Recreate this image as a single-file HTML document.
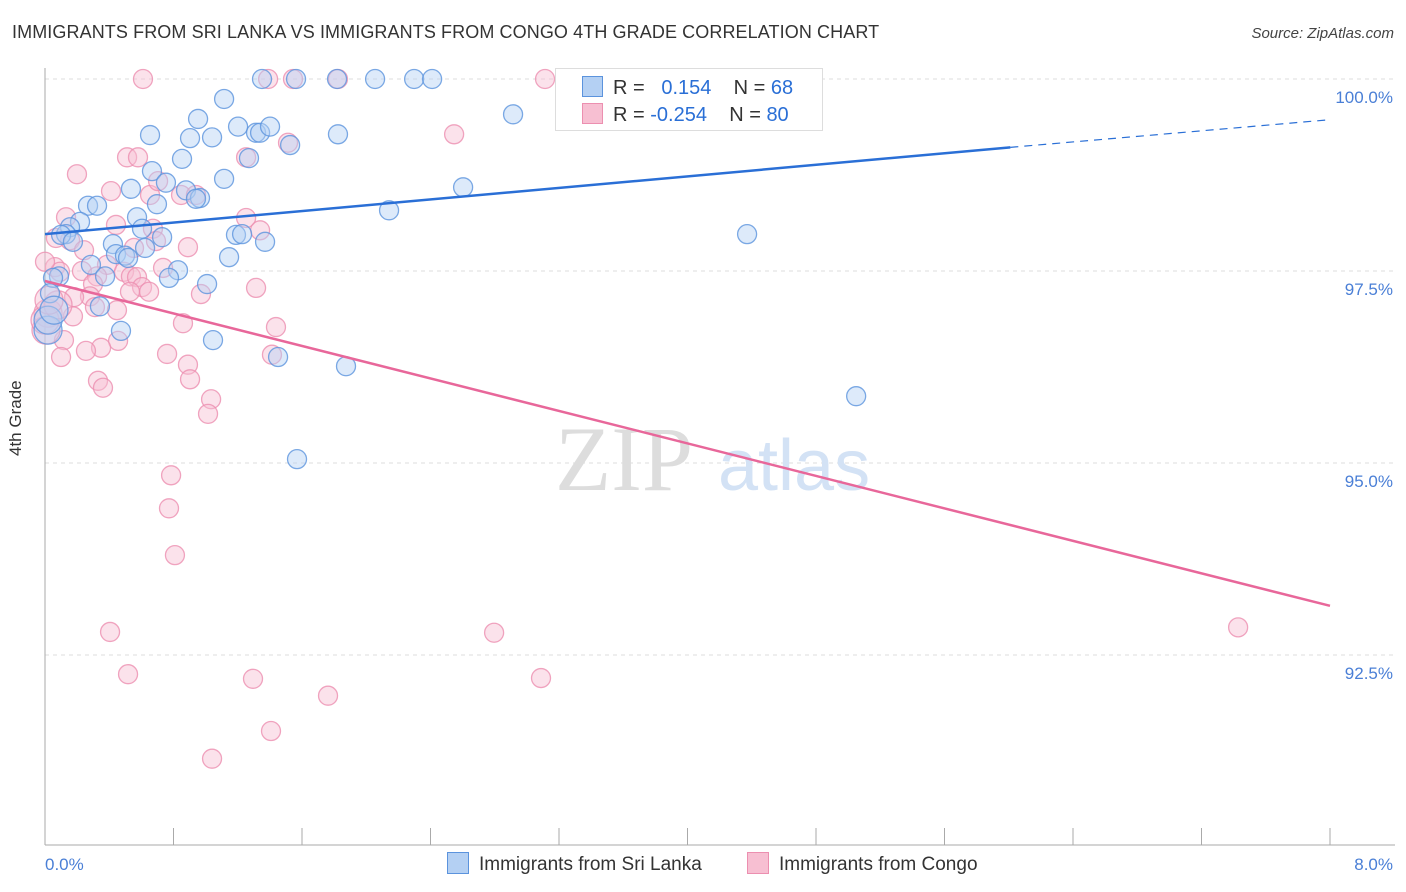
<!DOCTYPE html>
<html><head><meta charset="utf-8">
<style>
body{margin:0;background:#fff;font-family:"Liberation Sans",sans-serif;}
#wrap{position:relative;width:1406px;height:892px;overflow:hidden;}
.t{position:absolute;white-space:nowrap;}
</style></head>
<body>
<div id="wrap">
<div class="t" style="left:12px;top:22px;font-size:18px;color:#333;letter-spacing:0.1px">IMMIGRANTS FROM SRI LANKA VS IMMIGRANTS FROM CONGO 4TH GRADE CORRELATION CHART</div>
<div class="t" style="right:12px;top:25px;font-size:15px;color:#444;font-style:italic">Source: ZipAtlas.com</div>
<div class="t" style="left:6px;top:456px;font-size:17px;color:#333;transform:rotate(-90deg);transform-origin:left top;transform:translate(0,0) rotate(-90deg);">4th Grade</div>
<svg id="svg" width="1406" height="892" style="position:absolute;left:0;top:0"></svg>
</div>
<script>
const blueX=[1.351,1.563,1.818,2.055,2.298,2.410,1.115,2.914,0.953,0.654,1.202,1.040,0.903,1.314,1.339,1.401,1.526,1.824,0.853,1.270,0.666,1.115,0.753,0.535,0.878,2.603,0.965,0.940,0.268,0.324,0.697,2.142,0.573,0.218,0.156,0.131,0.604,0.100,0.174,0.729,1.189,1.227,1.370,4.371,0.423,0.623,0.442,0.498,0.517,1.146,0.286,0.828,0.374,0.087,0.050,0.772,1.009,0.031,0.342,0.473,1.046,0.019,1.451,1.874,5.050,1.569,0.019,0.056];
const blueY=[100,100,100,100,100,100,99.74,99.54,99.48,99.27,99.38,99.24,99.23,99.30,99.30,99.38,99.14,99.28,98.96,98.97,98.80,98.70,98.65,98.57,98.55,98.59,98.45,98.44,98.35,98.35,98.37,98.29,98.20,98.14,98.07,97.98,98.05,97.97,97.88,97.94,97.97,97.98,97.88,97.98,97.85,97.80,97.72,97.70,97.67,97.68,97.58,97.51,97.43,97.43,97.41,97.41,97.33,97.21,97.04,96.72,96.60,96.73,96.38,96.26,95.87,95.05,96.86,96.99];
const pinkX=[0.610,1.389,1.544,1.824,3.113,2.547,1.513,0.511,0.579,1.252,0.199,0.411,0.654,0.847,0.940,0.704,0.131,1.252,0.442,0.672,1.339,0.156,0.890,0.554,0.691,0.068,0.243,0.062,0.386,0.735,0.492,0.230,0.535,0.573,0.324,0.299,0.604,1.314,0.648,0.280,0.529,0.971,0.181,0.311,0.448,0.019,0.174,0.859,1.438,0.118,0.455,0.349,0.255,0.100,0.760,1.413,0.890,0.903,0.330,0.361,1.034,1.015,0.785,0.772,0.809,0.405,2.796,7.428,0.517,1.295,3.088,1.762,1.407,1.040,0.006,0,0.081,0.025,0.093,0];
const pinkY=[100,100,100,100,100,99.28,99.17,98.98,98.98,98.98,98.76,98.54,98.49,98.49,98.49,98.67,98.20,98.19,98.10,98.05,98.03,97.90,97.81,97.80,97.89,97.93,97.77,97.55,97.58,97.54,97.49,97.50,97.43,97.42,97.43,97.33,97.29,97.28,97.23,97.17,97.23,97.20,97.16,97.03,96.99,96.95,96.91,96.82,96.77,96.60,96.59,96.50,96.46,96.38,96.42,96.41,96.28,96.09,96.07,95.98,95.83,95.64,94.84,94.41,93.80,92.80,92.79,92.86,92.25,92.19,92.20,91.97,91.51,91.15,96.73,96.86,97.06,97.12,97.49,97.62];
const yTicks=[100,97.5,95,92.5];
const yTickLabels=["100.0%","97.5%","95.0%","92.5%"];
const blueTrendX=[0,6.01,8];const blueTrendY=[97.98,99.11,99.47];
const pinkTrendX=[0,8];const pinkTrendY=[97.37,93.14];

const X0=45,X1=1330,YTOP=79,PXPER=76.8;
const xs=v=>X0+v/8*(X1-X0);
const ys=v=>YTOP+(100-v)*PXPER;
const svg=document.getElementById('svg');
const NS='http://www.w3.org/2000/svg';
function mk(tag,attrs,parent){const e=document.createElementNS(NS,tag);for(const k in attrs)e.setAttribute(k,attrs[k]);(parent||svg).appendChild(e);return e;}

yTicks.forEach((t,i)=>{
  const g=mk('line',{x1:X0,x2:1395,y1:ys(t),y2:ys(t),stroke:'#ddd','stroke-dasharray':'4,4'});
  
  
  const tx=mk('text',{x:1393,y:ys(t)+24,'text-anchor':'end','font-size':17,fill:'#4a7fd6','font-family':'Liberation Sans'});
  tx.textContent=yTickLabels[i];
  
  
});
const ax=mk('line',{x1:X0,x2:X0,y1:68,y2:845,stroke:'#aaa'});


const bx=mk('line',{x1:X0,x2:1395,y1:845,y2:845,stroke:'#aaa'});


for(let i=0;i<=10;i++){const tk=mk('line',{x1:xs(i*0.8),x2:xs(i*0.8),y1:828,y2:845,stroke:'#aaa'});

}
[["0.0%",45,'start'],["8.0%",1393,'end']].forEach(a=>{const t=mk('text',{x:a[1],y:870,'text-anchor':a[2],'font-size':17,fill:'#4a7fd6','font-family':'Liberation Sans'});t.textContent=a[0];

});

// watermark
const wm=mk('text',{x:555,y:490,'font-size':92,fill:'#ddd','font-family':'Liberation Serif'});wm.textContent='ZIP';


const wm2=mk('text',{x:718,y:490,'font-size':72,fill:'#d3e2f5','font-family':'Liberation Sans'});wm2.textContent='atlas';



function pts(X,Y,fill,stroke,name){X.forEach((x,i)=>{
  const r=(x<0.1&&Y[i]<97.2&&Y[i]>96.6)?14:9.5;
  const c=mk('circle',{cx:xs(x),cy:ys(Y[i]),r:r,fill:fill,'fill-opacity':0.45,stroke:stroke,'stroke-width':1.3,'stroke-opacity':0.8});
  
  
});}
pts(pinkX,pinkY,'#f7bfd2','#ec8fb0','congo-point');
pts(blueX,blueY,'#b4d0f3','#5b93dd','sri-lanka-point');

const bl=mk('line',{x1:xs(blueTrendX[0]),y1:ys(blueTrendY[0]),x2:xs(blueTrendX[1]),y2:ys(blueTrendY[1]),stroke:'#2a6fd6','stroke-width':2.5});


const bd=mk('line',{x1:xs(blueTrendX[1]),y1:ys(blueTrendY[1]),x2:xs(blueTrendX[2]),y2:ys(blueTrendY[2]),stroke:'#2a6fd6','stroke-width':1.2,'stroke-dasharray':'8,6'});


const pl=mk('line',{x1:xs(pinkTrendX[0]),y1:ys(pinkTrendY[0]),x2:xs(pinkTrendX[1]),y2:ys(pinkTrendY[1]),stroke:'#e8679a','stroke-width':2.5});


</script>
<div class="t" style="left:555px;top:68px;width:266px;height:61px;border:1px solid #ddd;background:#fff;font-size:20px;color:#333">
  <div style="position:absolute;left:26px;top:7px"><span style="display:inline-block;width:19px;height:19px;background:#b4d0f3;border:1px solid #5b93dd;vertical-align:-3px;margin-right:10px"></span>R = &nbsp;<span style="color:#2a6fd6">&nbsp;0.154</span>&nbsp;&nbsp;&nbsp; N = <span style="color:#2a6fd6">68</span></div>
  <div style="position:absolute;left:26px;top:34px"><span style="display:inline-block;width:19px;height:19px;background:#f7bfd2;border:1px solid #ec8fb0;vertical-align:-3px;margin-right:10px"></span>R = <span style="color:#2a6fd6">-0.254</span>&nbsp;&nbsp;&nbsp; N = <span style="color:#2a6fd6">80</span></div>
</div>
<div class="t" style="left:447px;top:852px;font-size:19px;color:#333"><span style="display:inline-block;width:20px;height:20px;background:#b4d0f3;border:1px solid #5b93dd;vertical-align:-4px;margin-right:10px"></span>Immigrants from Sri Lanka</div>
<div class="t" style="left:747px;top:852px;font-size:19px;color:#333"><span style="display:inline-block;width:20px;height:20px;background:#f7bfd2;border:1px solid #ec8fb0;vertical-align:-4px;margin-right:10px"></span>Immigrants from Congo</div>
</body></html>
